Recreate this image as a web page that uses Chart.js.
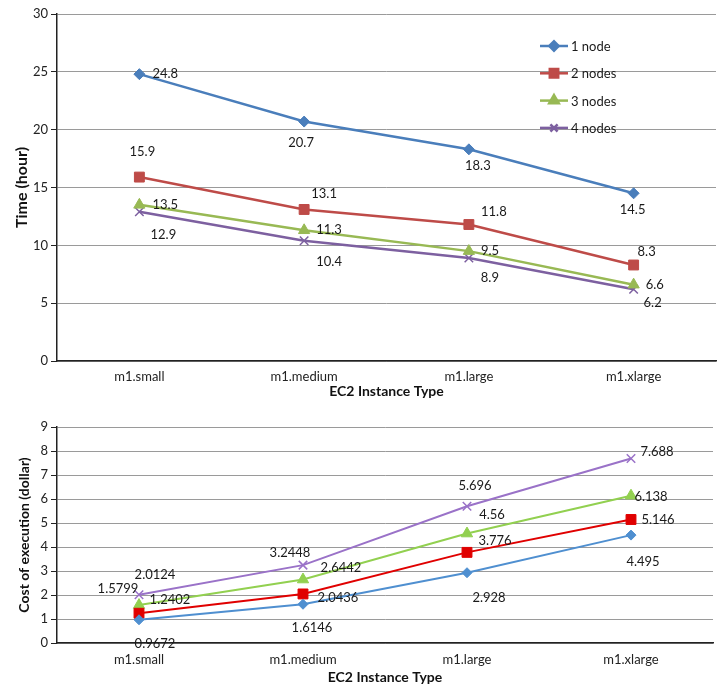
<!DOCTYPE html>
<html>
<head>
<meta charset="utf-8">
<script src="https://cdn.jsdelivr.net/npm/chart.js@4.4.1/dist/chart.umd.min.js"></script>
<style>
  html, body { margin: 0; padding: 0; background: #fff; }
  #wrap { position: relative; width: 726px; height: 697px; }
  canvas { position: absolute; left: 0; }
  #c1 { top: 0; }
  #c2 { top: 400px; }
</style>
</head>
<body>
<div id="wrap">
  <canvas id="c1" width="726" height="400"></canvas>
  <canvas id="c2" width="726" height="297"></canvas>
</div>
<script>
// ---------- data ----------
const categories = ['m1.small', 'm1.medium', 'm1.large', 'm1.xlarge'];
const seriesNames = ['1 node', '2 nodes', '3 nodes', '4 nodes'];

const time1 = [24.8, 20.7, 18.3, 14.5];
const time2 = [15.9, 13.1, 11.8, 8.3];
const time3 = [13.5, 11.3, 9.5, 6.6];
const time4 = [12.9, 10.4, 8.9, 6.2];

const cost1 = [0.9672, 1.6146, 2.928, 4.495];
const cost2 = [1.2402, 2.0436, 3.776, 5.146];
const cost3 = [1.5799, 2.6442, 4.56, 6.138];
const cost4 = [2.0124, 3.2448, 5.696, 7.688];

const timeTicks = [0, 5, 10, 15, 20, 25, 30];
const costTicks = [0, 1, 2, 3, 4, 5, 6, 7, 8, 9];

// ---------- label offsets (style only) ----------
const timeLabelOffsets = [
  [[13, 0, 'left'], [-3, 21, 'center'], [9, 16, 'center'], [-1, 17, 'center']],
  [[3, -25, 'center'], [20, -16, 'center'], [25, -13, 'center'], [13, -13, 'center']],
  [[13, 0, 'left'], [12, 0, 'left'], [12, 0, 'left'], [12, 0, 'left']],
  [[24, 23, 'center'], [25, 21, 'center'], [21, 20, 'center'], [19, 14, 'center']]
];
const costLabelOffsets = [
  [[16, 24, 'center'], [9, 24, 'center'], [22, 25, 'center'], [12, 27, 'center']],
  [[31, -13, 'center'], [35, 4, 'center'], [28, -12, 'center'], [27, 0, 'center']],
  [[-21, -16, 'center'], [38, -12, 'center'], [25, -19, 'center'], [20, 1, 'center']],
  [[16, -20, 'center'], [-13, -12, 'center'], [8, -20, 'center'], [26, -7, 'center']]
];

const FONT = "Lato, 'Open Sans', sans-serif";

const pointLabels = {
  id: 'pointLabels',
  afterDatasetsDraw(chart, args, opts) {
    const ctx = chart.ctx;
    ctx.save();
    ctx.font = opts.font || ('13px ' + FONT);
    ctx.fillStyle = '#1a1a1a';
    ctx.textBaseline = 'middle';
    chart.data.datasets.forEach((ds, di) => {
      const meta = chart.getDatasetMeta(di);
      meta.data.forEach((pt, i) => {
        const off = opts.offsets[di][i];
        ctx.textAlign = off[2];
        ctx.fillText(String(ds.data[i]), pt.x + off[0], pt.y + off[1]);
      });
    });
    ctx.restore();
  }
};

const innerLegend = {
  id: 'innerLegend',
  afterDraw(chart, args, opts) {
    if (!opts.show) return;
    const ctx = chart.ctx;
    ctx.save();
    chart.data.datasets.forEach((ds, i) => {
      const y = opts.y + i * opts.gap;
      const x0 = opts.x, x1 = opts.x + 28;
      ctx.strokeStyle = ds.borderColor;
      ctx.lineWidth = ds.borderWidth;
      ctx.beginPath(); ctx.moveTo(x0, y); ctx.lineTo(x1, y); ctx.stroke();
      ctx.fillStyle = ds.pointBackgroundColor;
      ctx.strokeStyle = ds.pointBorderColor;
      Chart.helpers.drawPoint(ctx, {
        pointStyle: ds.pointStyle,
        radius: ds.pointRadius * 0.85,
        borderWidth: ds.pointBorderWidth || 1
      }, (x0 + x1) / 2, y);
      ctx.font = '13px ' + FONT;
      ctx.textBaseline = 'middle';
      ctx.textAlign = 'left';
      ctx.fillStyle = '#1a1a1a';
      ctx.fillText(ds.label, x1 + 3, y + 1);
    });
    ctx.restore();
  }
};

function makeDatasets(arrays, colors, width, radii) {
  const styles = ['rectRot', 'rect', 'triangle', 'crossRot'];
  return arrays.map((arr, i) => ({
    label: seriesNames[i],
    data: arr,
    borderColor: colors[i],
    backgroundColor: colors[i],
    pointBackgroundColor: colors[i],
    pointBorderColor: colors[i],
    pointStyle: styles[i],
    pointRadius: radii[i],
    pointHoverRadius: radii[i],
    pointBorderWidth: i === 3 ? 1.5 : 1,
    borderWidth: width,
    tension: 0,
    fill: false
  }));
}

function makeOptions(cfg) {
  return {
    responsive: false,
    animation: false,
    devicePixelRatio: 1,
    layout: { padding: cfg.padding },
    plugins: {
      legend: { display: false },
      tooltip: { enabled: false },
      pointLabels: { offsets: cfg.offsets, font: '13px ' + FONT },
      innerLegend: cfg.legend
    },
    scales: {
      x: {
        type: 'category',
        offset: true,
        grid: { display: false },
        border: { display: true, color: '#222', width: 1.5 },
        ticks: { color: '#222', font: { family: FONT, size: 13 }, padding: cfg.xPad, maxRotation: 0 },
        title: { display: true, text: 'EC2 Instance Type', color: '#111',
                 font: { family: FONT, size: 14, weight: 'bold' }, padding: cfg.xTitlePad },
        afterFit(s) { s.height = cfg.xHeight; }
      },
      y: {
        min: cfg.min, max: cfg.max,
        afterBuildTicks(s) { s.ticks = cfg.ticks.map(v => ({ value: v })); },
        grid: { color: '#9a9a9a', lineWidth: 1, drawTicks: true, tickLength: 6, tickColor: '#222' },
        border: { display: true, color: '#222', width: 1.5 },
        ticks: { color: '#222', font: { family: FONT, size: 13 }, padding: 3 },
        title: { display: true, text: cfg.yTitle, color: '#111',
                 font: { family: FONT, size: cfg.yTitleSize, weight: 'bold' }, padding: cfg.yTitlePad },
        afterFit(s) { s.width = 57; }
      }
    }
  };
}

new Chart(document.getElementById('c1'), {
  type: 'line',
  data: {
    labels: categories,
    datasets: makeDatasets([time1, time2, time3, time4],
      ['#4A7EBB', '#BE4B48', '#98B954', '#7D60A0'], 2.5, [5.5, 7, 6.5, 6])
  },
  options: makeOptions({
    padding: { left: 0, right: 10, top: 14, bottom: 0 },
    offsets: timeLabelOffsets,
    legend: { show: true, x: 540, y: 46, gap: 27.3 },
    xPad: 0, xTitlePad: { top: 0, bottom: 0 }, xHeight: 39,
    min: 0, max: 30, ticks: timeTicks,
    yTitle: 'Time (hour)', yTitleSize: 16, yTitlePad: { top: 12, bottom: 0 }
  }),
  plugins: [pointLabels, innerLegend]
});

new Chart(document.getElementById('c2'), {
  type: 'line',
  data: {
    labels: categories,
    datasets: makeDatasets([cost1, cost2, cost3, cost4],
      ['#4F8FD0', '#E00000', '#92D050', '#9A72C8'], 2, [5, 7, 6.5, 6])
  },
  options: makeOptions({
    padding: { left: 0, right: 13, top: 27, bottom: 0 },
    offsets: costLabelOffsets,
    legend: { show: false },
    xPad: 1, xTitlePad: { top: 0, bottom: 11 }, xHeight: 54,
    min: 0, max: 9, ticks: costTicks,
    yTitle: 'Cost of execution (dollar)', yTitleSize: 14, yTitlePad: { top: 16, bottom: 0 }
  }),
  plugins: [pointLabels, innerLegend]
});
</script>
</body>
</html>
